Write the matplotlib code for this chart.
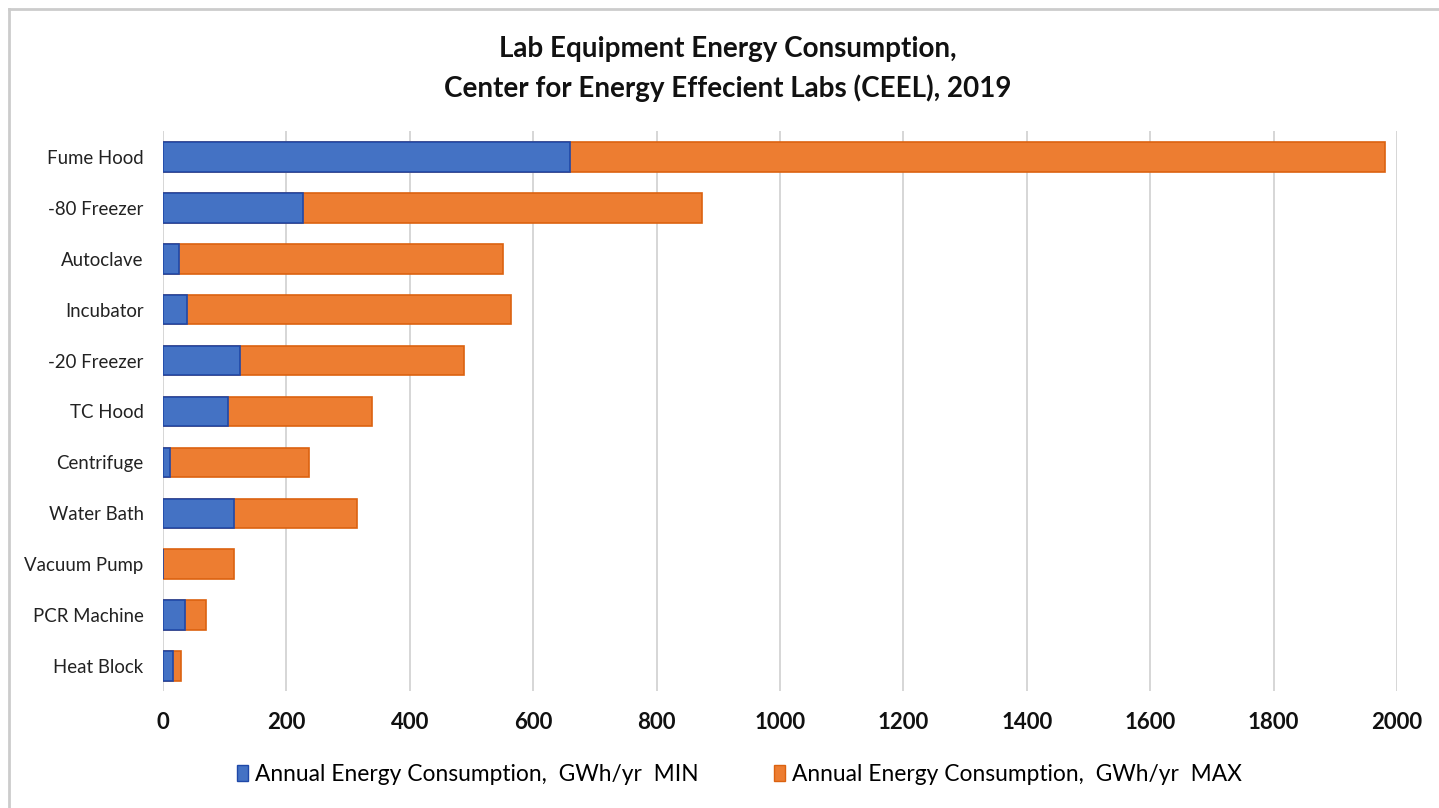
import matplotlib.pyplot as plt
import numpy as np
from matplotlib.lines import Line2D
from matplotlib.patches import Patch

plt.rcParams['font.family'] = ['Lato', 'DejaVu Sans']

# data (GWh/yr)
equipment = ["Fume Hood", "-80 Freezer", "Autoclave", "Incubator", "-20 Freezer",
             "TC Hood", "Centrifuge", "Water Bath", "Vacuum Pump", "PCR Machine",
             "Heat Block"]
energy_min = [660, 227, 26, 39, 125, 105, 11, 115, 0, 35, 16]
energy_max = [1980, 873, 551, 564, 488, 338, 237, 315, 115, 69, 29]
xticks = [0, 200, 400, 600, 800, 1000, 1200, 1400, 1600, 1800, 2000]

title = "Lab Equipment Energy Consumption,\nCenter for Energy Effecient Labs (CEEL), 2019"
label_min = "Annual Energy Consumption,  GWh/yr  MIN"
label_max = "Annual Energy Consumption,  GWh/yr  MAX"

blue, blue_edge = "#4472C4", "#1F48A8"
orange, orange_edge = "#ED7D31", "#DB6210"

fig = plt.figure(figsize=(14.39, 8.08), dpi=100)
ax = fig.add_axes([0.1133, 0.1442, 0.8575, 0.6931])

y = np.arange(len(equipment))
h = 0.58
ax.barh(y, energy_max, height=h, color=orange, edgecolor=orange_edge, linewidth=1.2, zorder=2)
ax.barh(y, energy_min, height=h, color=blue, edgecolor=blue_edge, linewidth=1.2, zorder=3)

ax.set_ylim(len(equipment) - 0.5, -0.5)
ax.set_xlim(0, 2000)
ax.set_yticks(y)
ax.set_yticklabels(equipment, fontsize=13.4, color="#222222")
ax.set_xticks(xticks)
ax.set_xticklabels([str(t) for t in xticks], fontsize=16, fontweight="bold", color="#111111")
ax.tick_params(axis="both", length=0)
ax.tick_params(axis="y", pad=14)
ax.tick_params(axis="x", pad=15)
ax.xaxis.grid(True, color="#d0d0d0", linewidth=1.2, zorder=0)
ax.set_axisbelow(True)
for s in ax.spines.values():
    s.set_visible(False)

fig.text(0.506, 0.915, title, ha="center", va="center", fontsize=20,
         fontweight="bold", linespacing=1.55, color="#111111")

handles = [Patch(facecolor=blue, edgecolor=blue_edge, label=label_min),
           Patch(facecolor=orange, edgecolor=orange_edge, label=label_max)]
fig.legend(handles=handles, loc="center", bbox_to_anchor=(0.514, 0.041), ncol=2,
           frameon=False, fontsize=16.4, handlelength=0.5, handleheight=0.7,
           handletextpad=0.3, columnspacing=3.3)

# light frame on the top and left edges
fig.add_artist(Line2D([9 / 1439, 9 / 1439], [0, 1 - 9 / 808], color="#cccccc", lw=2,
                      transform=fig.transFigure))
fig.add_artist(Line2D([9 / 1439, 1], [1 - 9 / 808, 1 - 9 / 808], color="#cccccc", lw=2,
                      transform=fig.transFigure))

fig.savefig("out.png", dpi=100)
